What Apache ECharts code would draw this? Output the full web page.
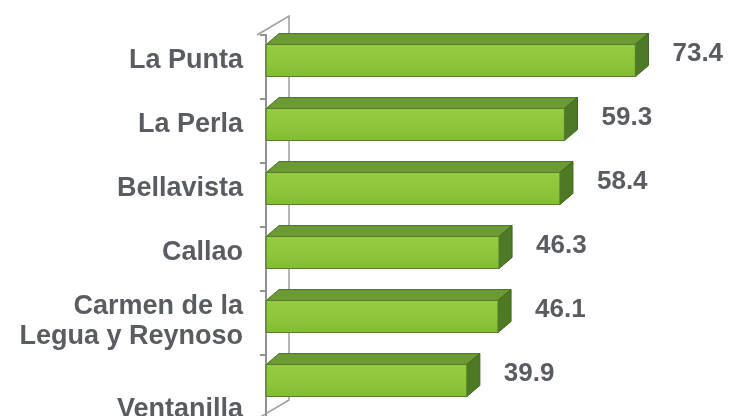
<!DOCTYPE html>
<html><head><meta charset="utf-8">
<script src="https://cdn.jsdelivr.net/npm/echarts@6/dist/echarts.min.js"></script>
<style>html,body{margin:0;padding:0;background:#fff}#c{width:731px;height:416px}</style>
</head><body><div id="c"></div>
<script>
const categories = ['La Punta', 'La Perla', 'Bellavista', 'Callao', 'Carmen de la\nLegua y Reynoso', 'Ventanilla'];
const values = [73.4, 59.3, 58.4, 46.3, 46.1, 39.9];

const DX = 13, DY = 11;
const chart = echarts.init(document.getElementById('c'));

function renderItem(params, api) {
  const idx = api.value(0);
  const val = api.value(1);
  const p0 = api.coord([0, idx]);
  const p1 = api.coord([val, idx]);
  const band = api.size([0, 1])[1];
  const h = band * 0.5;
  const x0 = p0[0], x1 = p1[0];
  const fy = p0[1] - 6.5 - h / 2;
  const children = [];
  if (params.dataIndex === 0) {
    const cs = params.coordSys;
    const ax = cs.x, top = cs.y, bot = cs.y + cs.height;
    const wx = ax + 32, wdy = 19;
    children.push({type: 'polyline', shape: {points: [[ax, top], [wx, top - wdy], [wx, bot - wdy], [ax, bot]]},
      style: {stroke: '#9a9ea3', lineWidth: 1.5, fill: null}, z2: 0});
  }
  children.push({type: 'polygon', shape: {points: [[x0, fy], [x0 + DX, fy - DY], [x1 + DX, fy - DY], [x1, fy]]},
    style: {fill: '#6a9a36', stroke: '#4f7826', lineWidth: 1}, z2: 5});
  children.push({type: 'polygon', shape: {points: [[x1, fy], [x1 + DX, fy - DY], [x1 + DX, fy - DY + h], [x1, fy + h]]},
    style: {fill: '#4e7a26', stroke: '#3f6620', lineWidth: 1}, z2: 5});
  children.push({type: 'rect', shape: {x: x0, y: fy, width: x1 - x0, height: h},
    style: {fill: new echarts.graphic.LinearGradient(0, 0, 0, 1, [
      {offset: 0, color: '#96cc42'}, {offset: 0.6, color: '#8cc43a'}, {offset: 1, color: '#84bb34'}]),
      stroke: '#557f28', lineWidth: 1.2}, z2: 6});
  children.push({type: 'text', style: {text: String(val), x: x1 + DX + 24, y: fy + 9,
    fill: '#595d62', font: 'bold 26px "Liberation Sans", Arial, sans-serif',
    align: 'left', verticalAlign: 'middle'}, z2: 7});
  return {type: 'group', children: children};
}

const F = '"Liberation Sans", Arial, sans-serif';
chart.setOption({
  animation: false,
  backgroundColor: '#fff',
  grid: {left: 257, top: 35, width: 462, height: 384, containLabel: false, outerBoundsMode: 'none'},
  xAxis: {type: 'value', min: -1.8, max: 90, show: false},
  yAxis: {
    type: 'category', data: categories, inverse: true,
    axisLine: {show: true, lineStyle: {color: '#8e9297', width: 2}},
    axisTick: {show: true, length: 6, lineStyle: {color: '#8e9297', width: 2}},
    axisLabel: {
      interval: 0, showMinLabel: true, showMaxLabel: true, hideOverlap: false,
      margin: 14, color: '#595d62',
      fontFamily: F, fontWeight: 'bold', fontSize: 27,
      formatter: function (v) {
        if (v === 'Ventanilla') return '{d|' + v + '}';
        if (v.indexOf('\n') >= 0) {
          const parts = v.split('\n');
          return '{m|' + parts[0] + '}\n{u|' + parts[1] + '}';
        }
        return '{u|' + v + '}';
      },
      rich: {
        u: {padding: [0, 0, 12, 0], lineHeight: 33, fontSize: 27, fontWeight: 'bold', color: '#595d62', fontFamily: F},
        m: {lineHeight: 39, fontSize: 27, fontWeight: 'bold', color: '#595d62', fontFamily: F},
        d: {padding: [46, 0, 0, 0], lineHeight: 33, fontSize: 27, fontWeight: 'bold', color: '#595d62', fontFamily: F}
      }
    }
  },
  series: [{
    type: 'custom', renderItem: renderItem, clip: false,
    encode: {x: 1, y: 0},
    data: values.map((v, i) => [i, v])
  }]
});
</script></body></html>
